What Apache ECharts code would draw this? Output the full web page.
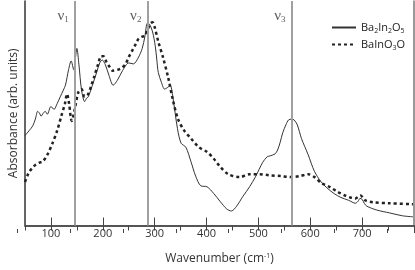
<!DOCTYPE html>
<html><head><meta charset="utf-8">
<script src="https://cdn.jsdelivr.net/npm/echarts@6/dist/echarts.min.js"></script>
<style>html,body{margin:0;padding:0;background:#fff}#c{width:415px;height:270px}</style>
</head><body><div id="c"></div>
<script>
// Wavenumber (cm^-1), absorbance (arb. units)
const ba2in2o5 = [[50,93],[58,98],[65,103],[70,110],[74.5,118],[78,116],[81,113],[85,116],[89,118],[93,115],[100,123],[106,120],[112,126],[118,133],[124,140],[128,145],[134,161],[139,170],[144,161],[147,172],[150,183],[154,166],[159,140],[165,128],[168,131],[172,133],[180,145],[188,158],[194,168],[199,171],[205,166],[212,155],[220,145],[228,150],[238,160],[250,168],[259,167],[268,173],[276,183],[281,195],[286,209],[290,208],[296,200],[301,186],[304,172],[307,158],[313,148],[319,141],[326,143],[330,145],[335,133],[344,100],[351,85],[360,81],[370,66],[379,51],[389,41],[401,40],[414,33],[426,25],[439,17],[448,15],[458,20],[470,30],[483,40],[495,51],[508,65],[517,71],[523,72],[532,74],[537,78],[542,86],[547,96],[553,104],[558,109],[564,110],[569,109],[575,104],[583,90],[596,73],[608,56],[621,45],[634,38],[646,33],[659,29],[674,26],[687,23],[692,25],[696,28],[700,27],[704,23],[709,20],[728,16],[753,13],[778,10],[798,9]];
const bainO3O = [[50,45],[55,52],[59,56],[65,60],[71,63],[78,65],[84,66],[93,73],[103,85],[112,98],[120,113],[127,126],[131,136],[135,126],[140,108],[144,115],[147,123],[153,138],[159,141],[165,133],[172,136],[178,145],[183,153],[190,165],[197,175],[201,175],[207,169],[213,164],[219,160],[229,161],[237,163],[244,167],[251,175],[257,181],[264,188],[269,193],[275,195],[281,196],[287,203],[292,209],[296,210],[300,205],[307,190],[316,174],[326,153],[335,130],[345,110],[357,98],[370,90],[385,81],[401,76],[414,69],[426,61],[442,53],[464,50],[483,53],[502,53],[520,52],[544,51],[561,50],[580,51],[596,53],[608,50],[621,44],[637,40],[652,35],[667,31],[677,29],[687,28],[693,30],[697,31],[701,29],[706,26],[721,24],[753,23],[798,22]];
const modeLines = [146, 286, 564];
const modeLabels = ['1', '2', '3'];
const modeLabelY = 216;
const majorTicks = [100, 200, 300, 400, 500, 600, 700];
const seriesNames = ['Ba2In2O5', 'BaInO3O'];
const legendRich = {'Ba2In2O5': 'Ba{sub|2}In{sub|2}O{sub|5}', 'BaInO3O': 'BaInO{sub|3}O'};

const chart = echarts.init(document.getElementById('c'), null, {renderer: 'canvas'});
const FONT = 'Open Sans';
const gridBox = {left: 17, right: 1, top: 1, bottom: 37};
chart.setOption({
  animation: false,
  backgroundColor: '#fff',
  grid: [Object.assign({}, gridBox), Object.assign({}, gridBox)],
  legend: {
    data: seriesNames, orient: 'vertical', left: 326, top: 17, itemWidth: 24, itemHeight: 12, itemGap: 5,
    itemStyle: {opacity: 0},
    formatter: n => legendRich[n],
    textStyle: {fontFamily: FONT, fontSize: 11, color: '#222',
      rich: {sub: {fontFamily: FONT, fontSize: 7, color: '#222', verticalAlign: 'bottom', padding: [6, 0, 0, 0]}}}
  },
  xAxis: [
    {type: 'value', gridIndex: 0, position: 'bottom', min: 50, max: 800, interval: 50,
      axisLine: {lineStyle: {color: '#8a8a8a', width: 2}},
      axisTick: {inside: true, length: 8, customValues: majorTicks, lineStyle: {color: '#444', width: 1}},
      axisLabel: {customValues: majorTicks, margin: 3, fontFamily: FONT, fontSize: 11, color: '#333'},
      splitLine: {show: false},
      name: 'Wavenumber (cm{sup|-1})', nameLocation: 'middle', nameGap: 27,
      nameTextStyle: {fontFamily: FONT, fontSize: 12, color: '#333',
        rich: {sup: {fontFamily: FONT, fontSize: 7, color: '#333', verticalAlign: 'top', padding: [0, 0, 6, 0]}}}},
    {type: 'value', gridIndex: 0, position: 'top', min: 50, max: 800, interval: 50,
      axisLine: {lineStyle: {color: '#444', width: 1.5}},
      axisTick: {inside: true, length: 5, lineStyle: {color: '#444'}},
      axisLabel: {show: false}, splitLine: {show: false}},
    {type: 'value', gridIndex: 1, position: 'bottom', min: 50, max: 800, interval: 100,
      axisLine: {show: false},
      axisTick: {inside: true, length: 4, lineStyle: {color: '#444', width: 1}},
      axisLabel: {show: false}, splitLine: {show: false}}
  ],
  yAxis: [
    {type: 'value', gridIndex: 0, position: 'left', min: 0, max: 232,
      axisLine: {show: true, lineStyle: {color: '#333', width: 1.5}},
      axisTick: {show: false}, axisLabel: {show: false}, splitLine: {show: false},
      name: 'Absorbance (arb. units)', nameLocation: 'middle', nameGap: 5,
      nameTextStyle: {fontFamily: FONT, fontSize: 12, color: '#333'}},
    {type: 'value', gridIndex: 0, position: 'right', min: 0, max: 232,
      axisLine: {show: true, lineStyle: {color: '#777', width: 1.5}},
      axisTick: {show: false}, axisLabel: {show: false}, splitLine: {show: false}},
    {type: 'value', gridIndex: 1, min: 0, max: 232, show: false}
  ],
  series: [
    {name: seriesNames[0], type: 'line', xAxisIndex: 0, yAxisIndex: 0, data: ba2in2o5,
      showSymbol: false, symbol: 'none', smooth: 0.3, z: 3,
      lineStyle: {color: '#333', width: 1},
      itemStyle: {color: '#333'},
      markLine: {silent: true, symbol: 'none', label: {show: false},
        lineStyle: {color: '#a0a0a0', width: 2, type: 'solid'},
        data: modeLines.map(v => ({xAxis: v}))}},
    {name: seriesNames[1], type: 'line', xAxisIndex: 0, yAxisIndex: 0, data: bainO3O,
      showSymbol: false, symbol: 'none', smooth: 0.3, z: 4,
      lineStyle: {color: '#222', width: 2.5, type: [3, 3]},
      itemStyle: {color: '#222'}},
    {name: 'labels', type: 'scatter', xAxisIndex: 0, yAxisIndex: 0, symbolSize: 0, silent: true,
      data: modeLines.map((v, i) => [v, modeLabelY, modeLabels[i]]),
      label: {show: true, position: 'left', distance: 6,
        formatter: p => '{v|ν}{s|' + p.data[2] + '}',
        rich: {v: {fontFamily: 'Liberation Serif', fontSize: 15, color: '#333'},
               s: {fontFamily: 'Liberation Serif', fontSize: 9, color: '#333', verticalAlign: 'bottom', padding: [7, 0, 0, 0]}}}}
  ]
});
</script></body></html>
